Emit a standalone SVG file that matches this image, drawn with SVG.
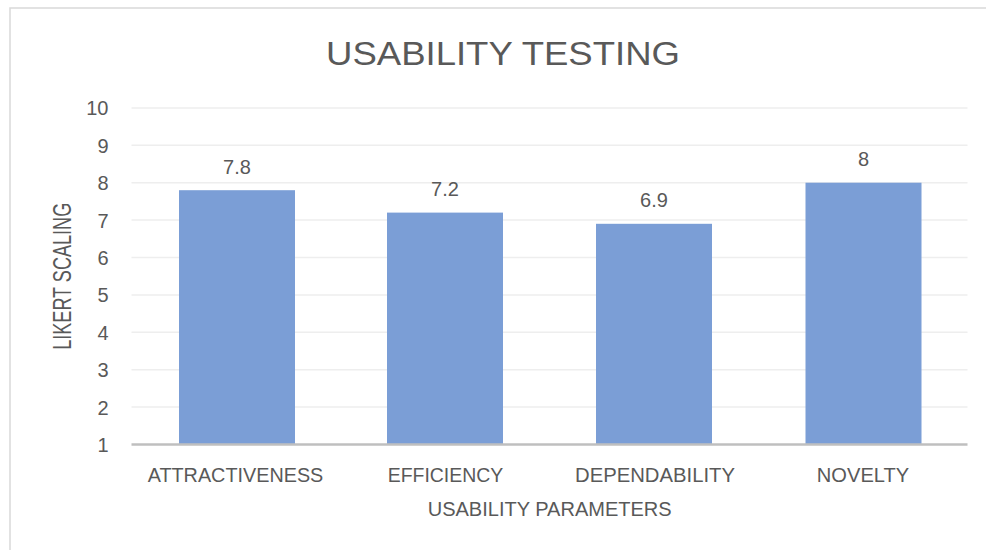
<svg xmlns="http://www.w3.org/2000/svg" width="986" height="550" viewBox="0 0 986 550">
  <style>
    text { font-family: "Liberation Sans", Arial, sans-serif; fill: #595959; }
    .tick { font-size: 20px; text-anchor: end; }
    .val { font-size: 20px; text-anchor: middle; }
    .cat { font-size: 20px; text-anchor: middle; }
    .axt { font-size: 20px; text-anchor: middle; }
    .grid { stroke: #EEEEEE; stroke-width: 1.5; }
    .bar { fill: #7B9ED6; }
  </style>
  <rect x="0" y="0" width="986" height="550" fill="#FFFFFF"/>
  <rect id="frame" x="10" y="8" width="1000" height="600" fill="#FFFFFF" stroke="#D9D9D9" stroke-width="1.5"/>
  <text id="title" x="503" y="65" style="font-size:34px;text-anchor:middle" textLength="354" lengthAdjust="spacingAndGlyphs">USABILITY TESTING</text>
  <g id="gridlines">
    <line class="grid" x1="131.5" y1="407.1" x2="967.5" y2="407.1"/>
    <line class="grid" x1="131.5" y1="369.7" x2="967.5" y2="369.7"/>
    <line class="grid" x1="131.5" y1="332.3" x2="967.5" y2="332.3"/>
    <line class="grid" x1="131.5" y1="294.9" x2="967.5" y2="294.9"/>
    <line class="grid" x1="131.5" y1="257.5" x2="967.5" y2="257.5"/>
    <line class="grid" x1="131.5" y1="220.1" x2="967.5" y2="220.1"/>
    <line class="grid" x1="131.5" y1="182.7" x2="967.5" y2="182.7"/>
    <line class="grid" x1="131.5" y1="145.3" x2="967.5" y2="145.3"/>
    <line class="grid" x1="131.5" y1="107.9" x2="967.5" y2="107.9"/>
  </g>
  <g id="y-ticks">
    <text class="tick" x="108.5" y="452">1</text>
    <text class="tick" x="108.5" y="414.6">2</text>
    <text class="tick" x="108.5" y="377.2">3</text>
    <text class="tick" x="108.5" y="339.8">4</text>
    <text class="tick" x="108.5" y="302.4">5</text>
    <text class="tick" x="108.5" y="265">6</text>
    <text class="tick" x="108.5" y="227.6">7</text>
    <text class="tick" x="108.5" y="190.2">8</text>
    <text class="tick" x="108.5" y="152.8">9</text>
    <text class="tick" x="108.5" y="115.4">10</text>
  </g>
  <g id="bar-attractiveness">
    <rect class="bar" x="179" y="190.2" width="116" height="254.3"/>
    <text class="val" x="237" y="174">7.8</text>
  </g>
  <g id="bar-efficiency">
    <rect class="bar" x="387" y="212.6" width="116" height="231.9"/>
    <text class="val" x="445" y="196">7.2</text>
  </g>
  <g id="bar-dependability">
    <rect class="bar" x="596" y="223.8" width="116" height="220.7"/>
    <text class="val" x="654" y="207">6.9</text>
  </g>
  <g id="bar-novelty">
    <rect class="bar" x="805.5" y="182.7" width="116" height="261.8"/>
    <text class="val" x="863.5" y="166">8</text>
  </g>
  <line id="x-axis" x1="131.5" y1="444.5" x2="967.5" y2="444.5" stroke="#BFBFBF" stroke-width="2.5"/>
  <g id="x-categories">
    <text class="cat" x="235.5" y="481.7" textLength="175.6" lengthAdjust="spacingAndGlyphs">ATTRACTIVENESS</text>
    <text class="cat" x="445.5" y="481.7" textLength="115.6" lengthAdjust="spacingAndGlyphs">EFFICIENCY</text>
    <text class="cat" x="655" y="481.7" textLength="160" lengthAdjust="spacingAndGlyphs">DEPENDABILITY</text>
    <text class="cat" x="863" y="481.7" textLength="92.3" lengthAdjust="spacingAndGlyphs">NOVELTY</text>
  </g>
  <text id="x-title" class="axt" x="549.7" y="515.7" textLength="244" lengthAdjust="spacingAndGlyphs">USABILITY PARAMETERS</text>
  <text id="y-title" class="axt" transform="translate(70.5,276.3) rotate(-90) scale(1,1.25)" x="0" y="0" textLength="147" lengthAdjust="spacingAndGlyphs">LIKERT SCALING</text>
</svg>
